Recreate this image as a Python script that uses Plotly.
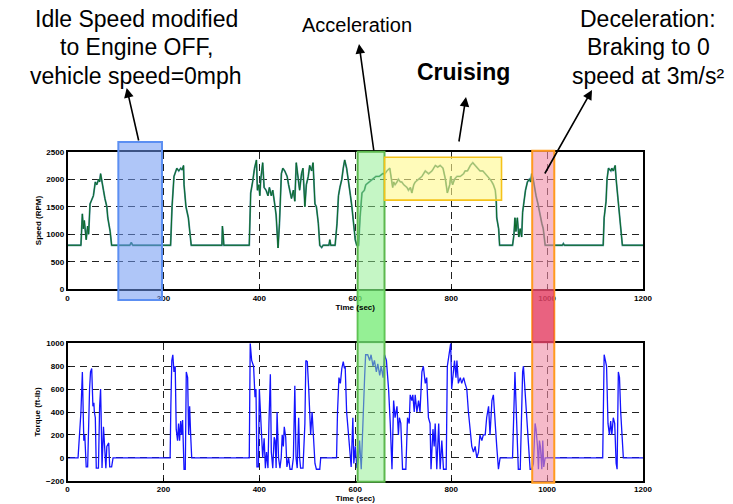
import plotly.graph_objects as go

W, H = 733, 504

# ---------------- data ----------------
speed_t = [0, 28, 31, 33, 35, 39, 42, 44, 47, 51, 54, 58, 61, 65, 67, 69, 72, 75, 78, 82, 84, 86, 89, 92,
           130, 133, 136, 215, 218, 222, 226, 228, 232, 236, 239, 242, 243, 247, 252, 255, 258,
           322, 323, 325, 326, 379, 382, 386, 390, 394, 396, 399, 401, 403, 407, 410, 414, 418, 421, 425, 428,
           432, 435, 439, 442, 446, 449, 453, 458, 461, 467, 471, 474, 477, 481, 484, 488, 491, 495, 498,
           502, 505, 509, 512, 516, 519, 523, 526, 530, 533, 545, 547, 549, 558, 562, 565, 568, 572, 575,
           578, 582, 586, 590, 593, 596, 600, 603, 607, 610, 614, 619, 622, 629, 636, 643, 650, 657,
           662, 666, 672, 674, 678, 680, 683, 687, 690, 694, 697, 701, 708, 711, 715, 718, 722, 725, 732,
           739, 746, 753, 760, 767, 772, 777, 783, 788, 792, 797, 799, 803, 807, 812, 819, 826, 829, 834,
           840, 845, 850, 855, 860, 866, 871, 878, 881, 885, 888, 892, 894, 895, 899, 901, 928, 931, 933,
           935, 938, 941, 944, 947, 949, 952, 955, 959, 963, 966, 968, 971, 974, 977, 981, 983, 986, 989,
           992, 996, 1032, 1034, 1036, 1117, 1119, 1123, 1125, 1128, 1133, 1135, 1138, 1142, 1144, 1147,
           1151, 1154, 1157, 1200]
speed_rpm = [800, 800, 1370, 1100, 1250, 900, 1150, 1000, 1550, 1650, 1700, 1950, 1900, 2000, 1950, 2100,
             1900, 1800, 1650, 1500, 1300, 1200, 1050, 800,
             800, 850, 800, 800, 1500, 2050, 2150, 2200, 2150, 2200, 2170, 2250, 1900, 1500, 1300, 1000, 800,
             800, 1150, 950, 800, 800, 1750, 1950, 2200, 2350, 1800, 1900, 1700, 2000, 2300, 1850, 1800,
             1700, 1850, 1700, 1800,
             1550, 1350, 750, 1200, 2100, 2200, 2150, 2050, 1900, 1650, 1800, 1600, 2300, 2000, 1800, 2100,
             2200, 1500, 1900,
             2050, 2250, 2150, 2300, 1550, 1500, 1200, 800, 760, 800, 800, 900, 800, 800, 1200, 1700, 1850,
             2000, 2200,
             2350, 2200, 1900, 1700, 1500, 1200, 900, 800, 800, 1300, 1750, 1800, 1900, 1950, 2000, 2050,
             2050, 2100,
             2100, 2150, 2200, 2050, 1850, 1950, 1900, 1950, 2000, 1950, 1950, 1900, 1850, 1800, 1850, 1750,
             1900, 1950, 2000,
             2050, 2150, 2100, 2150, 2250, 2220, 2250, 2200, 2000, 1750, 1900, 2050, 1900, 2000, 2050, 2050,
             2100, 2150, 2150,
             2250, 2300, 2250, 2200, 2150, 2150, 2100, 2050, 2000, 1950, 1900, 1800, 1600, 1300, 1100, 800,
             800, 1000, 1300,
             1050, 1300, 950, 1100, 950, 1400, 1600, 1800, 1950, 2000, 1950, 2100, 2000, 1800, 1700, 1550,
             1450, 1300, 1200,
             1100, 800, 800, 830, 800, 800, 1300, 1600, 2000, 2200, 2150, 2200, 2150, 2250, 2000, 1700,
             1300, 1000, 800, 800]

torque_t = [0, 22, 28, 31, 33, 34, 36, 39, 42, 44, 46, 48, 50.5, 53, 55, 56, 58, 60, 64.5, 67, 69, 70, 72,
            75, 78, 80, 82, 86, 88, 92, 95, 214, 215.5, 217.5, 219.6, 222, 224.6, 226.7, 229.5, 231.6,
            233.7, 236, 238, 240, 243, 245.6, 247.7, 250.5, 252.6, 254.7, 256.8, 259, 379, 381, 384, 388,
            391, 393, 395, 398, 400, 402, 405, 407, 410, 412.6, 415, 418, 420, 423, 425, 428, 431, 433, 435,
            437, 440, 443, 445.6, 447.7, 450, 452, 455, 457.5, 461, 464, 468, 471, 474, 476.5, 479, 482,
            484, 486, 491, 495, 497, 500, 503, 507, 510, 512, 516, 519, 526, 528, 561, 563, 566, 569, 572,
            575, 577.5, 579, 582, 586, 589.5, 591.5, 595, 597, 600, 602, 603.5, 607, 609, 612.5, 616,
            619.5, 621.6, 626, 630, 633, 637, 640, 644, 647, 651, 654, 658, 661, 665, 669.5, 673, 676.6,
            680, 683, 687, 690, 692, 695, 698.6, 705.5, 709, 712.5, 714.6, 718, 720, 723, 725, 728.5, 732,
            735, 739, 742, 746, 749, 752.6, 756, 758, 762, 764.6, 766.7, 770, 774, 777, 780.5, 784, 789.6,
            792, 795, 798, 799, 801, 803.5, 807, 810, 812, 815, 819, 822, 826, 829, 832.6, 836, 840, 843,
            846.5, 850, 853.5, 857, 860, 864, 867, 871, 874, 878, 881, 885, 888, 891.7, 895, 898.6, 902,
            928, 931, 933, 935, 937.5, 940, 944, 946.5, 949, 950.7, 954, 957.6, 961, 964.6, 968, 971.5,
            975, 977, 980, 982, 984, 986, 989, 991, 993, 996, 1116, 1119, 1121.5, 1124, 1127, 1130,
            1132.6, 1135, 1138, 1141, 1144, 1146, 1148.6, 1151, 1153.5, 1156, 1159, 1200]
torque_ftlb = [0, 0, 400, 750, 350, 150, 200, -80, -80, 400, 600, 750, 780, 450, 480, 400, 350, -90, -90,
               450, 600, 400, -90, 270, 100, -90, 100, 130, -80, -80, 0, 0, 450, 850, 900, 750, 800, 250,
               150, 300,
               150, 320, 200, 330, -100, -100, 750, 700, 200, 450, 200, 0, 0, 1000, 850, 800,
               530, 600, -80, -80, 600, 400, 150, 0, 170, -90, 50, -90, 300, 730, 50, -90, 180, 150, -90,
               400, 0, -90, 0, 200, 100, 270, 180, -80, 0, -100, -100, 0, 630, 0, -90, 350,
               0, -90, -90, 300, 850, 840, 600, 200, 400, 200, -50, -100, -100, 0, 0, 400, 700, 650, 780,
               840, 780, 800, 400, 200, 0, -80, 350, -50, 100, -80, -90, 0, 150, -100, 400,
               700, 900, 900, 850, 900, 800, 850, 750, 820, 720, 800, 700, 900, 850, 600, 300, -100,
               500, 350, 450, 200, 350, 300, -100, -100, 350, 300, 550, 500, 550, 400, 550, 400, 500,
               400, 750, 800, 650, 700, 350, 300, -100, 250, 100, 300, -100, 300, -100, 150, -100, -100,
               800, 900, 950, 1000, 600, 700, 850, 700, 850, 650, 700, 650, 700, 650, 600, 400, 200, 100,
               50, 100, 0, 50, 200, 150, 200, 200, 350, 450, 200, 500, 550, 250, 100, -100, 0,
               0, 600, 750, 500, 200, -100, -100, 400, 750, 800, 600, 400, 200, -100, -100, -50,
               300, 250, 100, -100, 150, 100, -100, 150, -80, 0, 0, 900, 850, 800, 300, 200,
               320, 200, 350, 300, -50, -100, 750, 700, 400, 200, 0, 0]

x_ticks = [0, 200, 400, 600, 800, 1000, 1200]
speed_ticks = [0, 500, 1000, 1500, 2000, 2500]
torque_ticks = [-200, 0, 200, 400, 600, 800, 1000]

idle_span = [106, 197]
accel_span = [605, 661]
cruise_box = [661, 905, 1620, 2400]
decel_span = [969, 1015]

idle_label = ["Idle Speed modified", "to Engine OFF,", "vehicle speed=0mph"]
accel_label = ["Acceleration"]
cruise_label = ["<b>Cruising</b>"]
decel_label = ["Deceleration:", "Braking to 0", "speed at 3m/s²"]

# ---------------- helpers ----------------
def px(x):
    return x / W

def py(y):
    return 1 - y / H

X_DOM = [px(67.5), px(643)]
Y1_DOM = [py(289.3), py(151.7)]
Y2_DOM = [py(480.7), py(343.3)]

fig = go.Figure()

fig.add_trace(go.Scatter(x=speed_t, y=speed_rpm, mode="lines", xaxis="x", yaxis="y",
                         line=dict(color="#4f8ea0", width=1.8), hoverinfo="skip", showlegend=False))
fig.add_trace(go.Scatter(x=speed_t, y=speed_rpm, mode="lines", xaxis="x", yaxis="y",
                         line=dict(color="#0b6a26", width=1.0), showlegend=False))
fig.add_trace(go.Scatter(x=torque_t, y=torque_ftlb, mode="lines", xaxis="x2", yaxis="y2",
                         line=dict(color="#1414ff", width=1.3), showlegend=False))

tickfont = dict(family="Liberation Sans, Arial", size=8, color="black", weight="bold")
titlefont = dict(family="Liberation Sans, Arial", size=8, color="black", weight="bold")
axis_common = dict(showline=True, mirror=True, linecolor="black", linewidth=1.6,
                   showgrid=True, gridcolor="#222222", gridwidth=1, griddash="7px,5px",
                   zeroline=False, ticks="inside", ticklen=3, tickcolor="black",
                   tickfont=tickfont, automargin=False)

fig.update_layout(
    width=W, height=H, margin=dict(l=0, r=0, t=0, b=0),
    paper_bgcolor="white", plot_bgcolor="white",
    xaxis=dict(domain=X_DOM, anchor="y", range=[0, 1200], tickvals=x_ticks,
               title=dict(text="Time (sec)", font=titlefont, standoff=2), **axis_common),
    yaxis=dict(domain=Y1_DOM, anchor="x", range=[0, 2500], tickvals=speed_ticks,
               title=dict(text="Speed (RPM)", font=titlefont, standoff=4), **axis_common),
    xaxis2=dict(domain=X_DOM, anchor="y2", range=[0, 1200], tickvals=x_ticks,
                title=dict(text="Time (sec)", font=titlefont, standoff=2), **axis_common),
    yaxis2=dict(domain=Y2_DOM, anchor="x2", range=[-200, 1000], tickvals=torque_ticks,
                title=dict(text="Torque (ft-lb)", font=titlefont, standoff=4), **axis_common),
)

shapes = []
# idle (blue)
shapes.append(dict(type="rect", xref="x", yref="paper", x0=idle_span[0], x1=idle_span[1],
                   y0=py(300), y1=py(142), fillcolor="rgba(110,152,242,0.55)",
                   line=dict(color="#5c8ff2", width=2), layer="above"))
# acceleration (green)
shapes.append(dict(type="rect", xref="x", yref="paper", x0=accel_span[0], x1=accel_span[1],
                   y0=py(481.7), y1=py(151.7), fillcolor="rgba(140,238,140,0.5)",
                   line=dict(color="#5cb84e", width=2), layer="above"))
shapes.append(dict(type="rect", xref="x", yref="paper", x0=accel_span[0], x1=accel_span[1],
                   y0=Y1_DOM[0], y1=Y2_DOM[1], fillcolor="rgba(110,235,110,0.55)",
                   line=dict(width=0), layer="above"))
# cruising (yellow)
shapes.append(dict(type="rect", xref="x", yref="y", x0=cruise_box[0], x1=cruise_box[1],
                   y0=cruise_box[2], y1=cruise_box[3], fillcolor="rgba(255,248,140,0.6)",
                   line=dict(color="#f5c21a", width=1.6), layer="above"))
# deceleration (red/orange)
shapes.append(dict(type="rect", xref="x", yref="paper", x0=decel_span[0], x1=decel_span[1],
                   y0=py(482.7), y1=py(150.7), fillcolor="rgba(240,140,165,0.6)",
                   line=dict(color="#ff9a1e", width=2), layer="above"))
shapes.append(dict(type="rect", xref="x", yref="paper", x0=decel_span[0], x1=decel_span[1],
                   y0=Y1_DOM[0], y1=Y2_DOM[1], fillcolor="rgba(225,40,80,0.6)",
                   line=dict(width=0), layer="above"))
fig.update_layout(shapes=shapes)

big = dict(family="Liberation Sans, Arial", size=23, color="black")
ann = []

def add_lines(lines, cx, ys, size=23):
    for txt, yy in zip(lines, ys):
        ann.append(dict(xref="paper", yref="paper", x=px(cx), y=py(yy), text=txt, showarrow=False,
                        xanchor="center", yanchor="middle", font=dict(big, size=size)))

add_lines(idle_label, 136, [19, 47, 76])
add_lines(accel_label, 357, [25], size=20)
add_lines(cruise_label, 463, [72], size=23)
add_lines(decel_label, 648, [19, 47, 76])

def arrow(hx, hy, tx, ty):
    ann.append(dict(xref="paper", yref="paper", x=px(hx), y=py(hy), text="", showarrow=True,
                    ax=tx - hx, ay=ty - hy, axref="pixel", ayref="pixel",
                    arrowhead=2, arrowsize=1.2, arrowwidth=1.6, arrowcolor="black", standoff=0))

arrow(126.7, 88, 139, 142)
arrow(359, 44, 374, 152)
arrow(466, 97, 458.7, 143)
arrow(592, 90, 544, 175)

fig.update_layout(annotations=ann)
fig.write_html("out.html")
